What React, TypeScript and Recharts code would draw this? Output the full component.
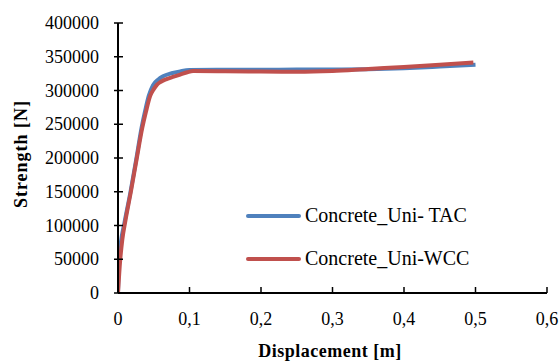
import { LineChart, Line, XAxis, YAxis, Label } from 'recharts'

// Displacement [m] / Strength [N]
const tacDisp = [0, 0.0015, 0.004, 0.009, 0.0175, 0.0255, 0.033, 0.038, 0.043, 0.049, 0.056, 0.063, 0.075, 0.087, 0.1, 0.15, 0.2, 0.25, 0.3, 0.35, 0.4, 0.45, 0.5]
const tacStrength = [0, 50000, 75000, 104000, 150000, 198000, 245000, 270000, 292000, 308000, 316000, 321000, 325500, 328300, 330300, 330800, 330800, 331000, 331000, 331500, 333000, 335500, 338200]

const wccDisp = [0, 0.003, 0.006, 0.0105, 0.018, 0.026, 0.034, 0.039, 0.045, 0.05, 0.054, 0.06, 0.068, 0.078, 0.087, 0.097, 0.105, 0.15, 0.2, 0.25, 0.3, 0.35, 0.4, 0.45, 0.497]
const wccStrength = [0, 48000, 79000, 108000, 150000, 198000, 245000, 268000, 292000, 302000, 308000, 313000, 317000, 320500, 323500, 327000, 328800, 328500, 328000, 327800, 329000, 332000, 334800, 338000, 341500]

const xTicks = [0, 0.1, 0.2, 0.3, 0.4, 0.5, 0.6]
const yTicks = [0, 50000, 100000, 150000, 200000, 250000, 300000, 350000, 400000]

const seriesNames = ['Concrete_Uni- TAC', 'Concrete_Uni-WCC']
const seriesColors = ['#4f81bd', '#c0504d']

const FONT = '"Liberation Serif", "Times New Roman", serif'

const tac = tacDisp.map((x, i) => ({ x, y: tacStrength[i] }))
const wcc = wccDisp.map((x, i) => ({ x, y: wccStrength[i] }))

const fmtX = (v: number) => (v === 0 ? '0' : v.toFixed(1).replace('.', ','))

function XTick({ x, y, payload }: any) {
  return (
    <g>
      <line x1={x} x2={x} y1={y} y2={y - 6} stroke="#000" strokeWidth={1.5} />
      <text x={x} y={y + 32} textAnchor="middle" fontSize={18} fontFamily={FONT} fill="#000">
        {fmtX(payload.value)}
      </text>
    </g>
  )
}

function YTick({ x, y, payload }: any) {
  return (
    <g>
      <line x1={x - 4} x2={x + 5} y1={y} y2={y} stroke="#000" strokeWidth={1.5} />
      <text x={x - 19} y={y + 6} textAnchor="end" fontSize={18} fontFamily={FONT} fill="#000">
        {payload.value}
      </text>
    </g>
  )
}

export default function App() {
  return (
    <div style={{ position: 'absolute', left: 0, top: 0, width: 560, height: 361, background: '#fff' }}>
      <LineChart width={560} height={361} margin={{ top: 23, right: 13, bottom: 0, left: 0 }}>
        <XAxis
          dataKey="x"
          type="number"
          domain={[0, 0.6]}
          ticks={xTicks}
          allowDataOverflow
          height={68}
          tickSize={0}
          tickMargin={0}
          tick={<XTick />}
          tickLine={false}
          axisLine={{ stroke: '#000', strokeWidth: 2 }}
        >
          <Label
            content={() => (
              <text x={330} y={357} textAnchor="middle" fontSize={18} fontWeight="bold" fontFamily={FONT} letterSpacing={0.5} fill="#000">
                Displacement [m]
              </text>
            )}
          />
        </XAxis>
        <XAxis xAxisId="top" orientation="top" type="number" domain={[0, 0.6]} height={0} tick={false} tickLine={false} axisLine={{ stroke: '#000', strokeWidth: 2 }} />
        <YAxis
          type="number"
          domain={[0, 400000]}
          ticks={yTicks}
          width={118}
          tickSize={0}
          tickMargin={0}
          tick={<YTick />}
          tickLine={false}
          axisLine={{ stroke: '#000', strokeWidth: 2 }}
        >
          <Label
            content={() => (
              <text x={27} y={154} textAnchor="middle" fontSize={18} fontWeight="bold" fontFamily={FONT} letterSpacing={1} fill="#000" transform="rotate(-90 27 154)">
                Strength [N]
              </text>
            )}
          />
        </YAxis>
        <YAxis yAxisId="right" orientation="right" width={0} tick={false} tickLine={false} axisLine={{ stroke: '#000', strokeWidth: 2 }} />
        <Line data={tac} dataKey="y" name={seriesNames[0]} type="monotone" stroke={seriesColors[0]} strokeWidth={4} dot={false} isAnimationActive={false} />
        <Line data={wcc} dataKey="y" name={seriesNames[1]} type="monotone" stroke={seriesColors[1]} strokeWidth={4} dot={false} isAnimationActive={false} />
      </LineChart>
      {/* legend sits inside the plot, lower right */}
      <div style={{ position: 'absolute', left: 246, top: 194, fontFamily: FONT, fontSize: 20, color: '#000' }}>
        {seriesNames.map((name, i) => (
          <div key={name} style={{ display: 'flex', alignItems: 'center', height: 43, whiteSpace: 'nowrap' }}>
            <svg width={55} height={6} style={{ marginRight: 4 }}>
              <line x1={2} x2={53} y1={3} y2={3} stroke={seriesColors[i]} strokeWidth={4} strokeLinecap="round" />
            </svg>
            <span>{name}</span>
          </div>
        ))}
      </div>
    </div>
  )
}
